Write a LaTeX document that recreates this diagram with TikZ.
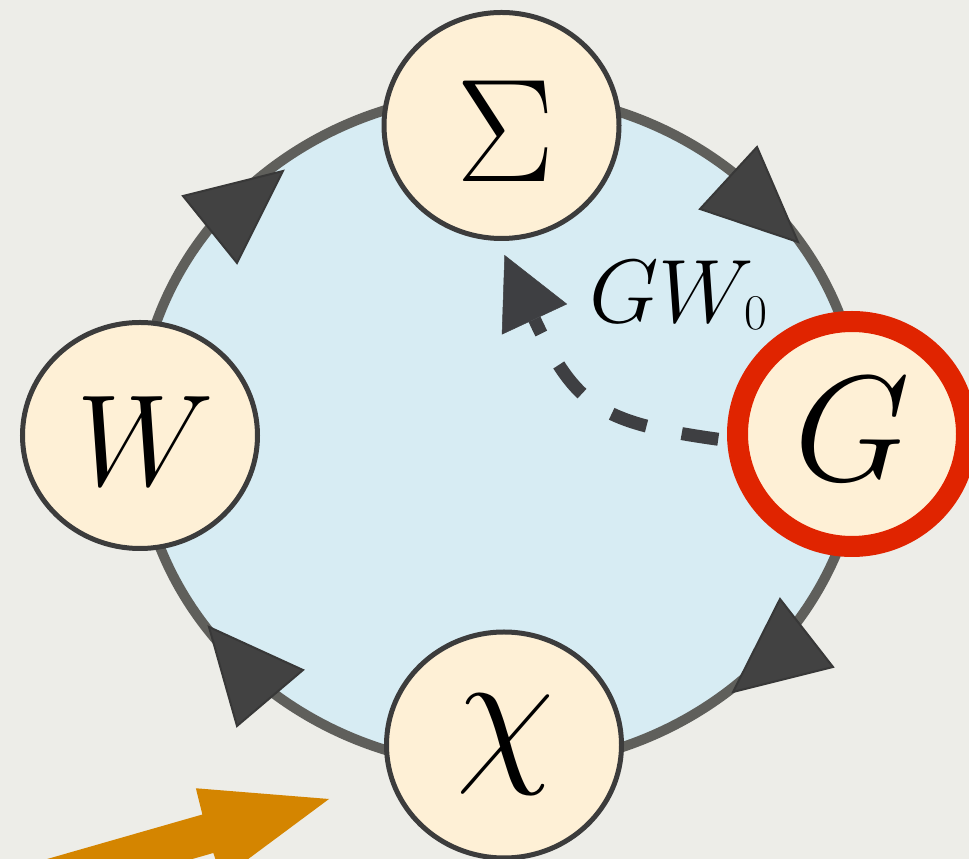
\RequirePackage{fix-cm}
\documentclass[tikz,border=0pt]{standalone}
\usetikzlibrary{arrows.meta,calc,shapes.geometric}
\definecolor{bgcol}{HTML}{EDEDE8}
\definecolor{ringfill}{HTML}{D7ECF3}
\definecolor{ringline}{HTML}{5F5F5B}
\definecolor{nodefill}{HTML}{FEF0D6}
\definecolor{nodeline}{HTML}{3C3C3C}
\definecolor{gred}{HTML}{E02400}
\definecolor{tricol}{HTML}{424242}
\definecolor{dashcol}{HTML}{3E3F42}
\definecolor{orangecol}{HTML}{D48500}
\pgfdeclarelayer{back}
\pgfsetlayers{back,main}
% #1 size, #2 2*x offset, #3 y offset, #4 content
\newcommand{\glyph}[4]{\fontsize{#1}{#1}\selectfont\makebox[0pt]{\hspace*{#2}\smash{\raisebox{\dimexpr -0.5\height+0.5\depth+#3\relax}{#4}}}}
\tikzset{
  state/.style={ellipse, draw=nodeline, fill=nodefill, line width=5pt,
    minimum width=235pt, minimum height=226pt, inner sep=0pt},
  gstate/.style={state, draw=gred, line width=21pt,
    minimum width=229pt, minimum height=225pt},
  ringtri/.style={fill=tricol, draw=tricol!85!black, line width=2pt},
  flow/.style={dashcol, line width=13pt, dash pattern=on 37pt off 36pt,
    -{Triangle[length=71pt,width=72pt,line width=0.5pt]}},
}
\begin{document}
\begin{tikzpicture}[x=1pt,y=1pt]
\useasboundingbox (0,0) rectangle (969,859);

\node[state] (W) at (140,423.5) {\glyph{130pt}{10pt}{-5.5pt}{$W$}};
\node[state] (S) at (501.5,733.5) {\glyph{147pt}{8pt}{-5.5pt}{$\Sigma$}};
\node[state] (X) at (504,114) {\glyph{160pt}{4pt}{0pt}{$\chi$}};
\node[gstate] (G) at (852,425) {\glyph{150pt}{0pt}{5pt}{$G$}};

\node[anchor=base west, inner sep=0pt] (L) at (589,536)
  {\fontsize{90pt}{90pt}\selectfont$GW$\kern-10pt\raisebox{-7pt}{\fontsize{50pt}{50pt}\selectfont$0$}};

\draw[flow, shorten <=9pt] (G.183) .. controls +(172:127pt) and +(-65:168pt) .. ($(S.south)+(3pt,-14pt)$);

\begin{pgfonlayer}{back}
  \fill[bgcol] (0,0) rectangle (969,859);
  \begin{scope}[shift={(329,60)}, rotate=16]
    \fill[orangecol] (0,0) -- (-125,47) -- (-126,20) -- (-600,20) -- (-600,-20)
      -- (-126,-20) -- (-125,-47) -- cycle;
  \end{scope}
  \coordinate (C) at (499.5,429);
  \filldraw[fill=ringfill, draw=ringline, line width=10pt] (C) ellipse [x radius=362pt, y radius=337pt];
  \filldraw[ringtri] (183,663) -- (283,688) -- (237,596) -- cycle;
  \filldraw[ringtri] (757,712) -- (700,650) -- (798,617) -- cycle;
  \filldraw[ringtri] (780,260) -- (833,192) -- (733,167) -- cycle;
  \filldraw[ringtri] (209,232) -- (303,189) -- (237,133) -- cycle;
\end{pgfonlayer}
\end{tikzpicture}
\end{document}
